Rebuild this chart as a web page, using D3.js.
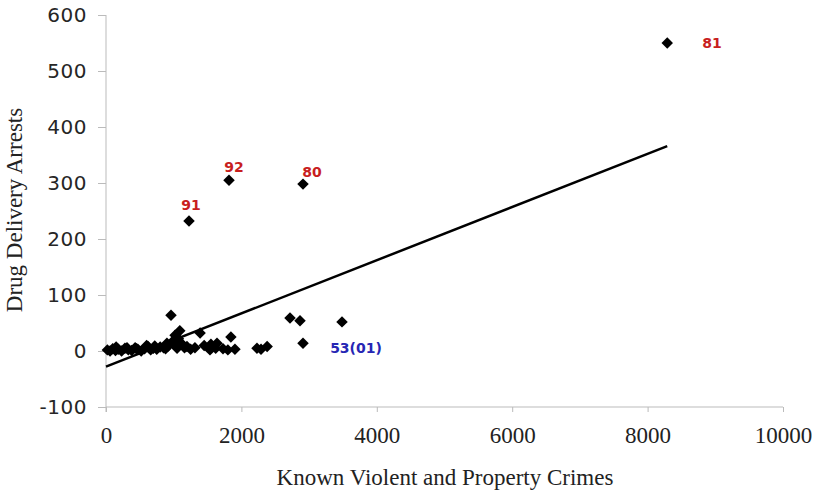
<!DOCTYPE html>
<html>
<head>
<meta charset="utf-8">
<script src="https://cdn.jsdelivr.net/npm/d3@7"></script>
<style>
  body { margin: 0; background: #fff; }
  svg { display: block; }
</style>
</head>
<body>
<div id="chart"></div>
<script>
// known violent and property crimes (x) vs drug delivery arrests (y)
const crimes = [8290, 1817, 2910, 1226, 2718, 2866, 3486, 2910, 960, 1090, 1020, 990, 1140,
  1390, 1845, 1550, 1620, 2230, 2290, 2380,
  20, 60, 100, 140, 180, 230, 280, 330, 380, 430, 470, 520, 570, 620, 660, 700, 750, 800,
  850, 880, 920, 1000, 1050, 1100, 1196, 1250, 1314, 1450, 1536, 1640, 1728, 1800, 1905,
  150, 310, 450, 600, 720, 900, 1070, 1160];
const arrests = [550, 305, 298, 232, 59, 54, 52, 14, 64, 36, 28, 18, 10,
  32, 25, 12, 5, 5, 3, 8,
  2, 0, 4, 1, 3, 0, 5, 2, 1, 6, 3, 0, 4, 8, 2, 5, 3, 7,
  6, 4, 9, 12, 5, 15, 8, 3, 6, 10, 2, 14, 4, 2, 3,
  7, 6, 4, 10, 9, 14, 22, 6];

// trend line end points
const trendX = [0, 8290];
const trendY = [-28, 366];

// annotations (text centre in data units)
const labelText = ["81", "92", "80", "91", "53(01)"];
const labelX = [8951, 1890, 3043, 1256, 3693];
const labelY = [550, 329, 320, 261, 5];
const labelColor = ["#c81e1e", "#c81e1e", "#c81e1e", "#c81e1e", "#2626b4"];

const xTicks = [0, 2000, 4000, 6000, 8000, 10000];
const yTicks = [-100, 0, 100, 200, 300, 400, 500, 600];

const W = 817, H = 493;
const svg = d3.select("#chart").append("svg").attr("width", W).attr("height", H);

const x = d3.scaleLinear().domain([0, 10000]).range([106, 783]);
const y = d3.scaleLinear().domain([-100, 600]).range([407, 15]);

// y axis
const yAxis = svg.append("g")
  .attr("transform", "translate(" + x(0) + ",0)")
  .call(d3.axisLeft(y).tickValues(yTicks).tickSize(8).tickPadding(11).tickFormat(d3.format("d")));
yAxis.select(".domain").attr("stroke", "#bbb").attr("d", "M0," + y(600) + "V" + (y(-100) + 5));
yAxis.selectAll(".tick line").attr("stroke", "#bbb");
yAxis.selectAll(".tick text")
  .attr("fill", "#262626")
  .style("font-family", "'DejaVu Sans', Verdana, sans-serif")
  .style("font-size", "20px")
  .style("letter-spacing", "0.5px")
  .text(d => d < 0 ? "-" + Math.abs(d) : d);

// x axis at y = -100
const xAxis = svg.append("g")
  .attr("transform", "translate(0," + y(-100) + ")")
  .call(d3.axisBottom(x).tickValues(xTicks).tickSize(5).tickPadding(15).tickFormat(d3.format("d")));
xAxis.select(".domain").attr("stroke", "#bbb").attr("d", "M" + x(0) + ",0H" + x(10000));
xAxis.selectAll(".tick line").attr("stroke", "#bbb");
xAxis.selectAll(".tick text")
  .attr("fill", "#222")
  .style("font-family", "'Liberation Serif', 'Times New Roman', serif")
  .style("font-size", "23px");

// axis titles
svg.append("text")
  .attr("x", 445).attr("y", 485)
  .attr("text-anchor", "middle")
  .style("font-family", "'Liberation Serif', 'Times New Roman', serif")
  .style("font-size", "23px")
  .attr("fill", "#222")
  .text("Known Violent and Property Crimes");

svg.append("text")
  .attr("transform", "translate(22,210) rotate(-90)")
  .attr("text-anchor", "middle")
  .style("font-family", "'Liberation Serif', 'Times New Roman', serif")
  .style("font-size", "23px")
  .attr("fill", "#222")
  .text("Drug Delivery Arrests");

// trend line
svg.append("line")
  .attr("x1", x(trendX[0])).attr("y1", y(trendY[0]))
  .attr("x2", x(trendX[1])).attr("y2", y(trendY[1]))
  .attr("stroke", "#000")
  .attr("stroke-width", 2.5);

// points (diamonds)
const diamond = d3.symbol().type(d3.symbolSquare).size(66);
svg.append("g")
  .selectAll("path")
  .data(crimes.map((c, i) => ({ c: c, a: arrests[i] })))
  .enter()
  .append("path")
  .attr("d", diamond)
  .attr("transform", d => "translate(" + x(d.c) + "," + y(d.a) + ") rotate(45)")
  .attr("fill", "#000");

// annotations
svg.append("g")
  .selectAll("text")
  .data(labelText)
  .enter()
  .append("text")
  .attr("x", (d, i) => x(labelX[i]))
  .attr("y", (d, i) => y(labelY[i]))
  .attr("dy", "0.35em")
  .attr("text-anchor", "middle")
  .attr("fill", (d, i) => labelColor[i])
  .style("font-family", "'DejaVu Sans', Verdana, sans-serif")
  .style("font-weight", "bold")
  .style("font-size", "14px")
  .text(d => d);
</script>
</body>
</html>
